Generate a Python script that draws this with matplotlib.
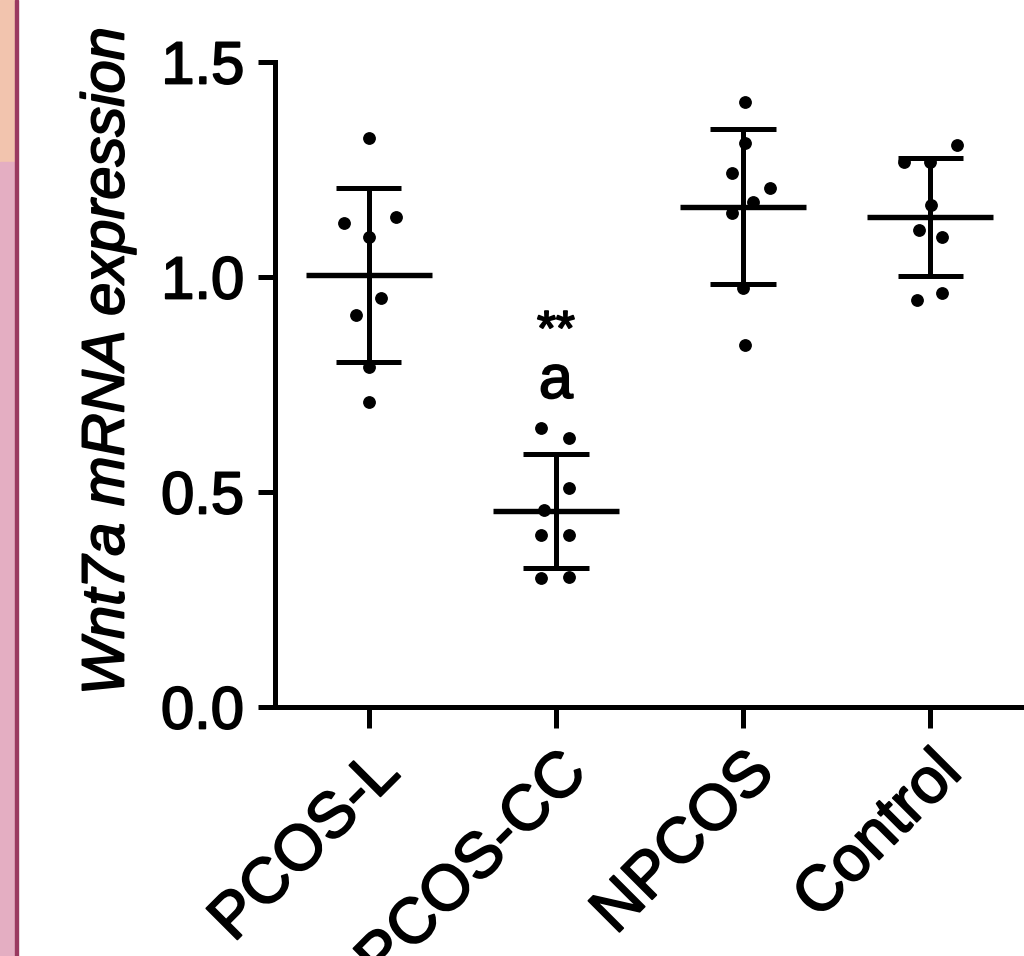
import numpy as np
import matplotlib
matplotlib.use("Agg")
import matplotlib.pyplot as plt
import matplotlib.patheffects as pe
import matplotlib.transforms as mtransforms
from matplotlib.patches import Rectangle

plt.rcParams['font.family'] = ['Liberation Sans', 'DejaVu Sans']

# Groups and relative Wnt7a mRNA expression of each sample
categories = ["PCOS-L", "PCOS-CC", "NPCOS", "Control"]
pcos_l = [1.323, 1.140, 1.126, 1.093, 0.951, 0.912, 0.791, 0.709]
pcos_cc = [0.649, 0.626, 0.509, 0.458, 0.400, 0.400, 0.302, 0.300]
npcos = [1.407, 1.312, 1.242, 1.207, 1.174, 1.149, 0.975, 0.842]
control = [1.307, 1.267, 1.267, 1.167, 1.109, 1.093, 0.963, 0.947]
groups = [pcos_l, pcos_cc, npcos, control]
yticks = [0.0, 0.5, 1.0, 1.5]
ytick_labels = ["0.0", "0.5", "1.0", "1.5"]

# horizontal scatter of the dots inside each column (axis units)
spread = [
    [0.0, 0.144, -0.134, 0.0, 0.064, -0.07, 0.0, 0.0],
    [-0.08, 0.07, 0.07, -0.064, -0.08, 0.07, 0.07, -0.08],
    [0.01, 0.01, -0.06, 0.144, 0.053, -0.06, 0.0, 0.01],
    [0.144, -0.139, 0.0, 0.005, -0.06, 0.064, 0.064, -0.07],
]

W, H = 1024, 956
fig = plt.figure(figsize=(W / 100, H / 100), dpi=100)
fig.patch.set_facecolor("white")

ax = fig.add_axes([275 / W, 249 / H, 749 / W, 645 / H])
lw = 3.6
fs = 43
thick = [pe.withStroke(linewidth=1.3, foreground='black')]

for i, (vals, dx) in enumerate(zip(groups, spread)):
    vals = np.asarray(vals)
    xs = i + np.asarray(dx)
    ax.plot(xs, vals, 'o', color='black', markersize=8.2, zorder=3, clip_on=False)
    m = vals.mean()
    sd = vals.std(ddof=1)
    ax.plot([i - 0.337, i + 0.337], [m, m], color='black', lw=lw + 0.3,
            solid_capstyle='butt', zorder=2)
    ax.plot([i, i], [m - sd, m + sd], color='black', lw=lw,
            solid_capstyle='butt', zorder=2)
    for y in (m - sd, m + sd):
        ax.plot([i - 0.175, i + 0.175], [y, y], color='black', lw=lw,
                solid_capstyle='butt', zorder=2)

# significance marks over PCOS-CC
ax.text(1, 0.872, "**", ha='center', va='center', fontsize=fs - 8,
        path_effects=thick)
ax.text(1, 0.755, "a", ha='center', va='center', fontsize=fs + 1,
        path_effects=thick)

ax.set_xlim(-0.5, 3.5)
ax.set_ylim(0, 1.5)
ax.set_yticks(yticks)
ax.set_yticklabels(ytick_labels, fontsize=fs)
ax.set_xticks(range(len(categories)))
ax.set_xticklabels(categories, fontsize=fs + 3, rotation=45, ha='right',
                   rotation_mode='anchor')
shift = mtransforms.ScaledTranslation(-7 / 100, 0, fig.dpi_scale_trans)
for lab in ax.get_xticklabels():
    lab.set_transform(lab.get_transform() + shift)
for lab in ax.get_xticklabels() + ax.get_yticklabels():
    lab.set_path_effects(thick)
for s in ("top", "right"):
    ax.spines[s].set_visible(False)
for s in ("left", "bottom"):
    ax.spines[s].set_linewidth(lw)
ax.tick_params(axis='both', width=lw, color='black')
ax.tick_params(axis='y', length=12, pad=10)
ax.tick_params(axis='x', length=15, pad=10)

fig.text(108 / W, 1 - 361 / H, "Wnt7a mRNA expression", rotation=90,
         ha='center', va='center', fontsize=fs, style='italic',
         path_effects=thick)

# coloured page edge on the left
fig.patches.append(Rectangle((0, 1 - 162 / H), 15 / W, 162 / H,
                             transform=fig.transFigure, color='#F2C4AE', zorder=0))
fig.patches.append(Rectangle((0, 0), 15 / W, 1 - 162 / H,
                             transform=fig.transFigure, color='#E4AEC2', zorder=0))
fig.patches.append(Rectangle((15 / W, 0), 3 / W, 1,
                             transform=fig.transFigure, color='#9A3A60', zorder=0))

fig.savefig("out.png", dpi=100)
